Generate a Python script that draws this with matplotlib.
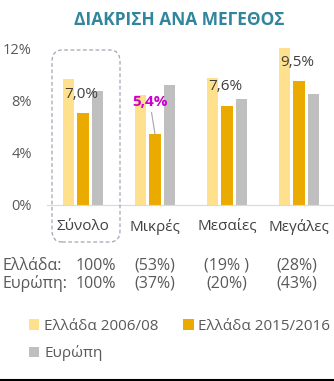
import numpy as np
import matplotlib
matplotlib.use('Agg')
import matplotlib.pyplot as plt
from matplotlib.patches import FancyBboxPatch
from matplotlib.lines import Line2D
import matplotlib.transforms as mtransforms

plt.rcParams['font.family'] = ['Open Sans', 'DejaVu Sans']

# data
categories = ['Σύνολο', 'Μικρές', 'Μεσαίες', 'Μεγάλες']
greece_0608 = [9.6, 8.4, 9.7, 12.0]
greece_1516 = [7.0, 5.4, 7.6, 9.5]
europe = [8.7, 9.2, 8.1, 8.5]
series_names = ['Ελλάδα 2006/08', 'Ελλάδα 2015/2016', 'Ευρώπη']
share_greece = ['100%', '(53%)', '(19% )', '(28%)']
share_europe = ['100%', '(37%)', '(20%)', '(43%)']
yticks = [0, 4, 8, 12]

c_light = '#FFE08C'
c_dark = '#EAAA00'
c_grey = '#BFBFBF'
txt = '#595959'

W, H = 334, 381
fig = plt.figure(figsize=(W / 100, H / 100), dpi=100)

def fx(x):
    return x / W

def fy(y):
    return 1 - y / H

ax = fig.add_axes([fx(47), fy(205), 288 / W, 157 / H])
x = np.arange(len(categories))
bw = 0.153
off = 0.195
ax.bar(x - off, greece_0608, bw, color=c_light, label=series_names[0])
ax.bar(x, greece_1516, bw, color=c_dark, label=series_names[1])
ax.bar(x + off, europe, bw, color=c_grey, label=series_names[2])

ax.set_xlim(-0.5, 3.5)
ax.set_ylim(0, 12)
ax.set_yticks(yticks)
ax.set_yticklabels([f'{v}%' for v in yticks], color=txt, fontsize=10.5)
ax.set_xticks(x)
ax.set_xticklabels(categories, color='#404040', fontsize=11)
ax.tick_params(axis='both', length=0)
ax.tick_params(axis='y', pad=11)
ax.tick_params(axis='x', pad=10)
for s in ['top', 'right', 'left']:
    ax.spines[s].set_visible(False)
ax.spines['bottom'].set_color('#D9D9D9')

# value labels for 2015/2016
for i, v in enumerate(greece_1516):
    lbl = f'{v:.1f}%'.replace('.', ',')
    if i == 1:
        ax.annotate(lbl, xy=(x[i], v), xytext=(x[i] - 0.07, v + 1.9),
                    ha='center', va='bottom', color='#CC00CC', fontsize=11,
                    fontweight='bold',
                    arrowprops=dict(arrowstyle='-', color='#A6A6A6', lw=0.8,
                                    shrinkA=0, shrinkB=0))
    else:
        ax.text(x[i] - 0.03, v + 0.85, lbl, ha='center', va='bottom',
                color='#404040', fontsize=11)

fig.text(0.538, fy(20), 'ΔΙΑΚΡΙΣΗ ΑΝΑ ΜΕΓΕΘΟΣ', ha='center', va='center',
         color='#31859C', fontsize=12.5, fontweight='bold')

# dashed box around the total
box = FancyBboxPatch((fx(52), fy(242)), fx(120) - fx(52), fy(50) - fy(242),
                     boxstyle='round,pad=0,rounding_size=0.03',
                     transform=fig.transFigure, fill=False,
                     edgecolor='#A5A5B5', linestyle=(0, (3, 2)), lw=0.9)
fig.patches.append(box)

# share table
share_dx = [0.18, 0, 0, -0.03]
trans = mtransforms.blended_transform_factory(ax.transData, fig.transFigure)
fig.text(fx(3), fy(266), 'Ελλάδα:', ha='left', va='center', color=txt, fontsize=11.5)
fig.text(fx(3), fy(284), 'Ευρώπη:', ha='left', va='center', color=txt, fontsize=11.5)
for i in range(len(categories)):
    fig.text(x[i] + share_dx[i], fy(266), share_greece[i], transform=trans,
             ha='center', va='center', color=txt, fontsize=11.5)
    fig.text(x[i] + share_dx[i], fy(284), share_europe[i], transform=trans,
             ha='center', va='center', color=txt, fontsize=11.5)

# legend, row-major order
h, l = ax.get_legend_handles_labels()
order = [0, 2, 1]
fig.legend([h[k] for k in order], [l[k] for k in order], ncol=2,
           loc='upper left', bbox_to_anchor=(fx(15), fy(305)), frameon=False,
           handlelength=0.7, handleheight=0.7, handletextpad=0.3,
           columnspacing=1.6, labelspacing=0.75, labelcolor=txt,
           prop={'size': 11})

# bottom border line
fig.add_artist(Line2D([0, 1], [fy(379.5), fy(379.5)], transform=fig.transFigure,
                      color='black', lw=1.5))

fig.savefig('out.png', dpi=100)
